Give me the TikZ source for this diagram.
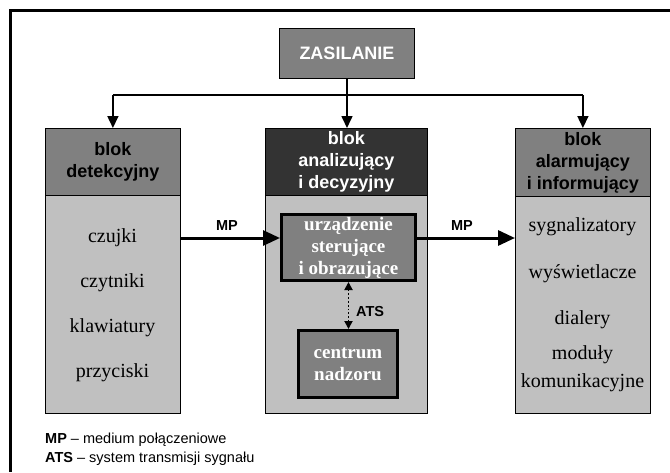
\documentclass[tikz,border=0pt]{standalone}
\usepackage{fontspec}
\setmainfont{Liberation Serif}
\setsansfont{Liberation Sans}
\usetikzlibrary{arrows.meta}
\definecolor{midgray}{HTML}{808080}
\definecolor{bodygray}{HTML}{C0C0C0}
\definecolor{darkhead}{HTML}{333333}
\begin{document}
\begin{tikzpicture}[x=1pt,y=-1pt,
  hdrtext/.style={font=\sffamily\bfseries\fontsize{18}{22}\selectfont, align=center, inner sep=0pt},
  itemtext/.style={font=\fontsize{20}{24}\selectfont, align=center, inner sep=0pt},
  blockbody/.style={draw=black, line width=0.8pt, fill=bodygray, anchor=north west, inner sep=0pt},
  blockhead/.style={draw=black, line width=0.8pt, anchor=north west, inner sep=0pt},
  devbox/.style={draw=black, line width=3pt, fill=midgray, text=white, align=center,
    font=\bfseries\fontsize{19}{22}\selectfont, inner sep=0pt},
  feed/.style={line width=1.6pt, -{Triangle[length=12pt,width=11pt]}},
  busline/.style={line width=1.6pt},
  mparrow/.style={line width=3pt, -{Triangle[length=17pt,width=15pt]}},
  atsarrow/.style={line width=1.8pt, dotted, {Triangle[length=8pt,width=8pt]}-{Triangle[length=8pt,width=8pt]}},
  lbl/.style={font=\sffamily\bfseries\fontsize{14.5}{17}\selectfont, inner sep=0pt},
  legend/.style={font=\sffamily\fontsize{14.5}{17}\selectfont, anchor=west, inner sep=0pt}]
\useasboundingbox (0,0) rectangle (670,472);
\fill[white] (0,0) rectangle (670,472);

% open frame (top and left edges)
\draw[line width=3pt] (670,10) -- (10,10) -- (10,472);

% power supply
\node[draw=black, line width=0.8pt, fill=midgray, minimum width=135pt, minimum height=50pt,
      text=white, font=\sffamily\bfseries\fontsize{18}{22}\selectfont] (zas) at (347,53) {ZASILANIE};

% detection block
\node[blockbody, minimum width=135pt, minimum height=285pt] (detbody) at (45,128) {};
\node[blockhead, fill=midgray, minimum width=135pt, minimum height=67pt] (dethead) at (45,128) {};
\node[hdrtext] (dettitle) at (dethead.center) {blok\\detekcyjny};
\node[itemtext] (czujki) at (112.5,238) {czujki};
\node[itemtext] (czytniki) at (112.5,283) {czytniki};
\node[itemtext] (klaw) at (112.5,328) {klawiatury};
\node[itemtext] (przyc) at (112.5,373) {przyciski};

% analysis block
\node[blockbody, minimum width=162pt, minimum height=285pt] (anbody) at (265,128) {};
\node[blockhead, fill=darkhead, minimum width=162pt, minimum height=67pt] (anhead) at (265,128) {};
\node[hdrtext, text=white] (antitle) at (anhead.center) {blok\\analizujący\\i decyzyjny};
\node[devbox, minimum width=134pt, minimum height=66pt] (device) at (348.5,247.5)
  {urządzenie\\sterujące\\i obrazujące};
\node[devbox, minimum width=99pt, minimum height=67pt] (centre) at (348,364) {centrum\\nadzoru};

% alarm block
\node[blockbody, minimum width=135pt, minimum height=285pt] (albody) at (515,128) {};
\node[blockhead, fill=midgray, minimum width=135pt, minimum height=68pt] (alhead) at (515,128) {};
\node[hdrtext] (altitle) at (alhead.center) {blok\\alarmujący\\i informujący};
\node[itemtext] (sygn) at (582.5,227) {sygnalizatory};
\node[itemtext] (wysw) at (582.5,274) {wyświetlacze};
\node[itemtext] (dial) at (582.5,320) {dialery};
\node[itemtext, font=\fontsize{20}{28}\selectfont] (modul) at (582.5,369) {moduły\\komunikacyjne};

% supply distribution
\coordinate (bus) at (347,95);
\draw[feed] (zas.south) -- (zas.south |- anhead.north);
\draw[busline] (bus -| dethead.north) -- (bus -| alhead.north);
\draw[feed] (bus -| dethead.north) -- (dethead.north);
\draw[feed] (bus -| alhead.north) -- (alhead.north);

% signal paths
\coordinate (mpy) at (0,238);
\draw[mparrow] (mpy -| detbody.east) -- (mpy -| device.west);
\draw[mparrow] (mpy -| device.east) -- (mpy -| albody.west);
\node[lbl] (mpleft) at (227,226) {MP};
\node[lbl] (mpright) at (462,226) {MP};
\draw[atsarrow] (device.south) -- (device.south |- centre.north);
\node[lbl, anchor=west] (atslbl) at (356,312) {ATS};

% legend
\node[legend] (leg1) at (45,440) {\textbf{MP} – medium połączeniowe};
\node[legend] (leg2) at (45,459) {\textbf{ATS} – system transmisji sygnału};
\end{tikzpicture}
\end{document}
